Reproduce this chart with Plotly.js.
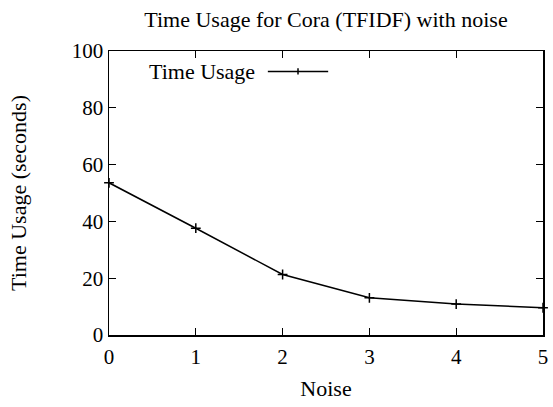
<!DOCTYPE html>
<html>
<head>
<meta charset="utf-8">
<script src="https://cdn.plot.ly/plotly-3.0.1.min.js"></script>
<style>html,body{margin:0;padding:0;background:#fff;}#chart{width:553px;height:407px;}</style>
</head>
<body>
<div id="chart"></div>
<script>
const noiseLevels = [0, 1, 2, 3, 4, 5];
const timeUsage = [53.6, 37.6, 21.3, 13.1, 10.9, 9.6];
const xTicks = [0, 1, 2, 3, 4, 5];
const yTicks = [0, 20, 40, 60, 80, 100];
const seriesName = 'Time Usage';

const fam = '"Liberation Serif", "Times New Roman", serif';
const font = {family: fam, size: 22, color: '#000'};
const tickFont = {family: fam, size: 21, color: '#000'};

const trace = {
  x: noiseLevels, y: timeUsage, type: 'scatter', mode: 'lines+markers',
  name: seriesName, showlegend: false,
  line: {color: '#000', width: 1.5},
  marker: {symbol: 'cross-thin-open', size: 7, line: {color: '#000', width: 1.5}},
  cliponaxis: false
};

const axisCommon = {
  showline: true, linecolor: '#000', linewidth: 1.5, mirror: 'ticks',
  ticks: 'inside', ticklen: 7, tickwidth: 1, tickcolor: '#000',
  showgrid: false, zeroline: false, tickfont: tickFont, automargin: false
};

const layout = {
  width: 553, height: 407,
  margin: {l: 109, r: 10, t: 51, b: 72},
  paper_bgcolor: '#fff', plot_bgcolor: '#fff',
  font: font,
  title: {text: 'Time Usage for Cora (TFIDF) with noise', font: font, x: 0.5, xref: 'paper', y: 0.953, yanchor: 'middle'},
  xaxis: Object.assign({}, axisCommon, {range: [0, 5], tickvals: xTicks, ticktext: xTicks.map(String),
    ticklabelstandoff: 2, title: {text: 'Noise', font: font, standoff: 13}}),
  yaxis: Object.assign({}, axisCommon, {range: [0, 100], tickvals: yTicks, ticktext: yTicks.map(String),
    title: {text: 'Time Usage (seconds)', font: font, standoff: 39}}),
  annotations: [{text: seriesName, xref: 'paper', yref: 'paper', x: 0.087, y: 0.928, xanchor: 'left', yanchor: 'middle', showarrow: false, font: font}],
  shapes: [
    {type: 'line', xref: 'paper', yref: 'paper', x0: 0.366, x1: 0.505, y0: 0.928, y1: 0.928, line: {color: '#000', width: 1.5}},
    {type: 'line', xref: 'paper', yref: 'paper', x0: 0.4355, x1: 0.4355, y0: 0.917, y1: 0.939, line: {color: '#000', width: 1.5}}
  ]
};

Plotly.newPlot('chart', [trace], layout, {displayModeBar: false, staticPlot: true});
</script>
</body>
</html>
